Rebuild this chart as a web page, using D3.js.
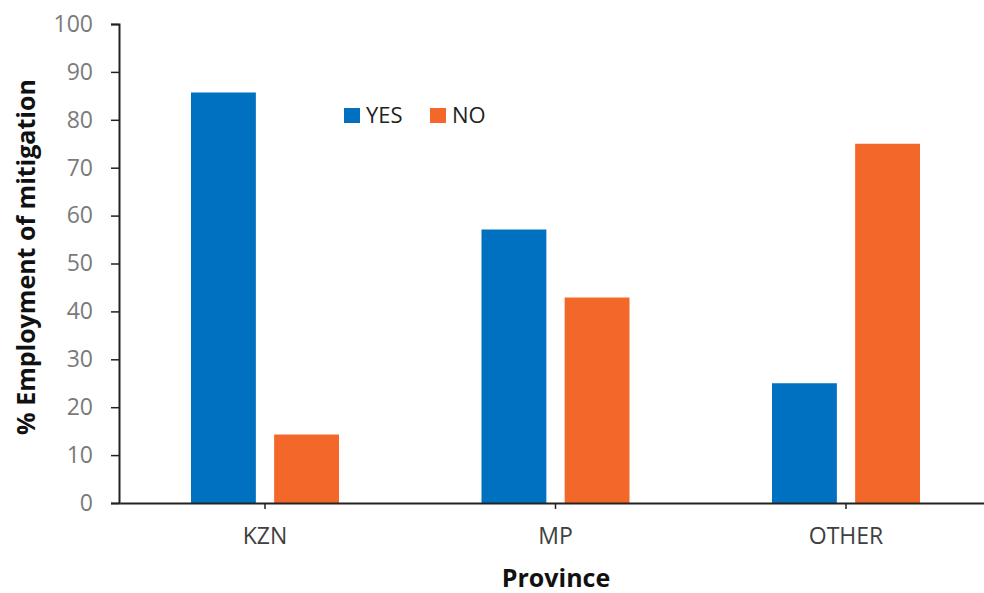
<!DOCTYPE html>
<html>
<head>
<meta charset="utf-8">
<script src="https://cdn.jsdelivr.net/npm/d3@7"></script>
<style>
  html, body { margin: 0; padding: 0; background: #fff; }
  svg { display: block; }
</style>
</head>
<body>
<svg id="chart" width="984" height="593"></svg>
<script>
const categories = ["KZN", "MP", "OTHER"];
const seriesNames = ["YES", "NO"];
const yesValues = [85.7, 57.1, 25.0];
const noValues = [14.3, 42.9, 75.0];
const yTicks = [0, 10, 20, 30, 40, 50, 60, 70, 80, 90, 100];
const colors = ["#0070C0", "#F4672A"];

const svg = d3.select("#chart");
const font = "'Open Sans', 'Liberation Sans', sans-serif";

const x = d3.scaleBand().domain(categories).range([119.75, 991.25]).paddingInner(0).paddingOuter(0);
const y = d3.scaleLinear().domain([0, 100]).range([503, 24]);
const groupW = 148;
const xs = d3.scaleBand().domain(seriesNames).range([0, groupW]).paddingInner(0.22).paddingOuter(0);

const data = categories.map((c, i) => ({ cat: c, vals: [yesValues[i], noValues[i]] }));

// bars
const g = svg.append("g");
data.forEach(d => {
  g.selectAll(null).data(d.vals.map((v, k) => ({ s: seriesNames[k], v, k })))
    .enter().append("rect")
    .attr("x", e => x(d.cat) + (x.bandwidth() - groupW) / 2 + xs(e.s))
    .attr("width", xs.bandwidth())
    .attr("y", e => y(e.v))
    .attr("height", e => y(0) - y(e.v))
    .attr("fill", e => colors[e.k]);
});

// y axis
const yAxis = svg.append("g").attr("transform", "translate(119,0)")
  .call(d3.axisLeft(y).tickValues(yTicks).tickSize(8).tickPadding(18));
yAxis.select(".domain").attr("stroke", "#222").attr("stroke-width", 2);
yAxis.selectAll(".tick line").attr("stroke", "#222").attr("stroke-width", 1.5);
yAxis.selectAll(".tick text").attr("fill", "#7a7a7a").style("font-family", font).style("font-size", "23px");

// x axis
const xAxis = svg.append("g").attr("transform", "translate(0,503)")
  .call(d3.axisBottom(x).tickSize(6).tickPadding(19).tickSizeOuter(0));
xAxis.select(".domain").attr("stroke", "#222").attr("stroke-width", 2);
xAxis.selectAll(".tick line").attr("stroke", "#222").attr("stroke-width", 1.5);
xAxis.selectAll(".tick text").attr("fill", "#404040").style("font-family", font).style("font-size", "23px");

// axis titles
svg.append("text").attr("x", 556).attr("y", 587).attr("text-anchor", "middle")
  .style("font-family", font).style("font-size", "25px").style("font-weight", "bold").attr("fill", "#111")
  .text("Province");
svg.append("text").attr("transform", "translate(35,257) rotate(-90)").attr("text-anchor", "middle")
  .style("font-family", font).style("font-size", "25px").style("font-weight", "bold").attr("fill", "#111")
  .text("% Employment of mitigation");

// legend
const legendX = [344, 430];
seriesNames.forEach((s, k) => {
  svg.append("rect").attr("x", legendX[k]).attr("y", 108).attr("width", 16).attr("height", 15).attr("fill", colors[k]);
  svg.append("text").attr("x", legendX[k] + 22).attr("y", 123)
    .style("font-family", font).style("font-size", "22px").attr("fill", "#222").text(s);
});
</script>
</body>
</html>
